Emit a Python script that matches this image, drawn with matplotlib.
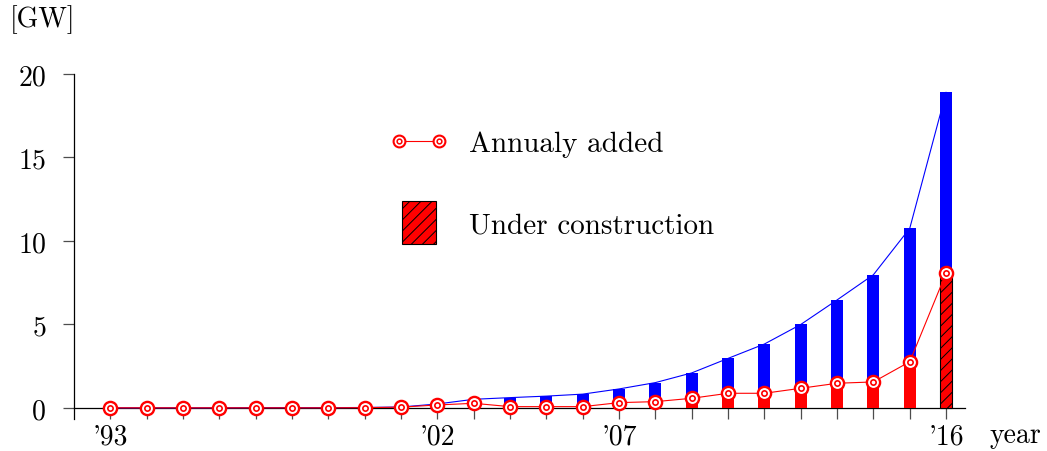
import matplotlib
matplotlib.use("Agg")
import numpy as np
import matplotlib.pyplot as plt
from matplotlib.lines import Line2D
from matplotlib.patches import Patch
from matplotlib.legend_handler import HandlerLine2D, HandlerTuple

years = list(range(1993, 2017))
total = [0.01, 0.01, 0.01, 0.01, 0.02, 0.02, 0.02, 0.03, 0.06, 0.24, 0.52, 0.62,
         0.71, 0.83, 1.14, 1.52, 2.10, 2.97, 3.83, 5.00, 6.47, 7.98, 10.76, 18.90]
added = [0.01, 0.01, 0.01, 0.01, 0.01, 0.01, 0.01, 0.02, 0.05, 0.18, 0.28, 0.08,
         0.08, 0.08, 0.32, 0.38, 0.58, 0.88, 0.88, 1.18, 1.48, 1.56, 2.77, 8.08]
construction_year = 2016
label_years = [1993, 2002, 2007, 2016]
label_texts = ["'93", "'02", "'07", "'16"]
y_ticks = [0, 5, 10, 15, 20]

plt.rcParams['font.family'] = ['cmr10', 'DejaVu Serif']
plt.rcParams['hatch.linewidth'] = 0.7
plt.rcParams['hatch.color'] = 'black'
FS = 20
LFS = 21

fig = plt.figure(figsize=(10.47, 4.52), dpi=100)
ax = fig.add_axes([74/1047, 32/452, 891/1047, 345/452])

bw = 0.33
built_years = [y for y in years if y != construction_year]
built_added = [a for y, a in zip(years, added) if y != construction_year]
ax.bar(years, total, width=bw, color='#0000ff', linewidth=0, zorder=2)
ax.bar(built_years, built_added, width=bw, color='#ff0000', linewidth=0, zorder=3)
ax.bar([construction_year], [added[years.index(construction_year)]], width=bw,
       color='#ff0000', edgecolor='black', linewidth=0.8, hatch='///', zorder=3)

ax.plot(years, total, color='#0000ff', lw=0.8, zorder=4)
outer_kw = dict(marker='o', ms=9.5, mfc='white', mec='#ff0000', mew=1.7)
inner_kw = dict(marker='o', ms=3.8, mfc='white', mec='#ff0000', mew=1.2)
ax.plot(years, added, color='#ff0000', lw=0.8, zorder=5, **outer_kw)
ax.plot(years, added, linestyle='none', zorder=6, **inner_kw)

ax.set_xlim(1992.0, 2016.52)
ax.set_ylim(-0.66, 20)

for s in ['top', 'right']:
    ax.spines[s].set_visible(False)
ax.spines['bottom'].set_position(('data', 0))
ax.spines['left'].set_linewidth(0.9)
ax.spines['bottom'].set_linewidth(0.9)

ax.set_xticks(years)
ax.set_xticklabels([label_texts[label_years.index(y)] if y in label_years else ''
                    for y in years])
ax.set_yticks(y_ticks)
ax.set_yticklabels([str(v) for v in y_ticks])
ax.tick_params(axis='x', direction='out', length=8, width=0.9, color='0.3',
               labelsize=FS, pad=3)
ax.tick_params(axis='y', direction='out', length=8, width=0.9, color='0.3',
               labelsize=FS, pad=12)


class ShiftedLineHandler(HandlerLine2D):
    def __init__(self, shift=0.0, **kw):
        super().__init__(**kw)
        self._shift = shift

    def create_artists(self, legend, orig_handle, xdescent, ydescent, width,
                       height, fontsize, trans):
        arts = super().create_artists(legend, orig_handle, xdescent, ydescent,
                                      width, height, fontsize, trans)
        for a in arts:
            a.set_ydata(np.asarray(a.get_ydata(), dtype=float) - self._shift)
        return arts


leg_outer = dict(marker='o', ms=8.5, mfc='white', mec='#ff0000', mew=1.5)
leg_inner = dict(marker='o', ms=3.4, mfc='white', mec='#ff0000', mew=1.1)
line_h = (Line2D([0], [0], color='#ff0000', lw=0.8, **leg_outer),
          Line2D([0], [0], linestyle='none', **leg_inner))
patch_h = Patch(facecolor='#ff0000', edgecolor='black', hatch='///', linewidth=0.8)
fpx = LFS * 100 / 72
hh = ((43 / fpx) - 0.245) / 0.65
ax.legend([line_h, patch_h], ['Annualy added', 'Under construction'],
          loc='upper left', bbox_to_anchor=(0.368, 0.866), frameon=False,
          fontsize=LFS, borderpad=0, borderaxespad=0, handlelength=34/fpx,
          handleheight=hh, labelspacing=38/fpx, handletextpad=33/fpx,
          handler_map={Line2D: ShiftedLineHandler(shift=4.0, marker_pad=-3/fpx,
                                                  numpoints=2),
                       tuple: HandlerTuple(ndivide=1)})

fig.text(10/1047, 1 - 20/452, '[GW]', fontsize=FS, va='center', ha='left')
fig.text(990/1047, 1 - 436/452, 'year', fontsize=FS, va='center', ha='left')

fig.savefig('out.png', dpi=100)
